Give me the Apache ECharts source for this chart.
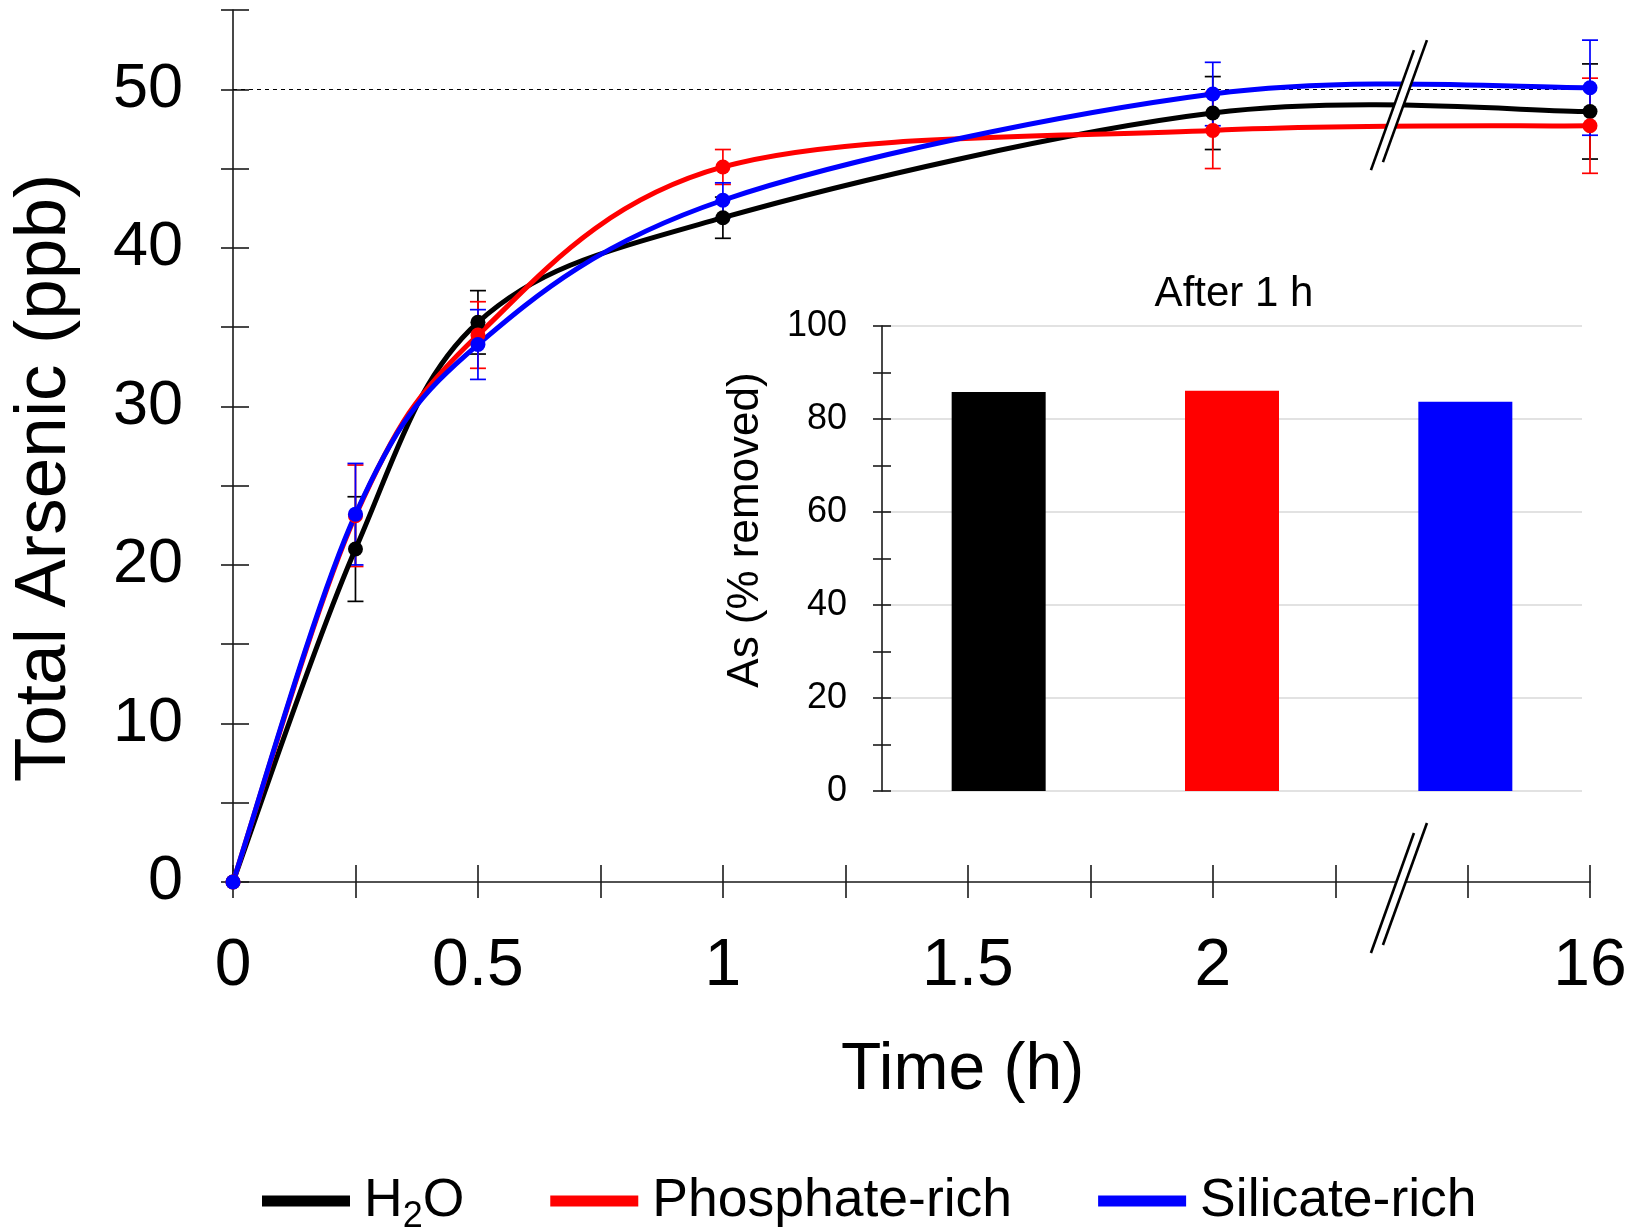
<!DOCTYPE html>
<html>
<head>
<meta charset="utf-8">
<script src="https://cdn.jsdelivr.net/npm/echarts@6/dist/echarts.min.js"></script>
<style>
  html, body { margin: 0; padding: 0; background: #fff; }
  #chart { width: 1641px; height: 1229px; }
</style>
</head>
<body>
<div id="chart"></div>
<script>
// Sampling times (h) and total arsenic (ppb), mean and SD
const timeHours = [0, 0.25, 0.5, 1, 2, 16];
const h2oMean  = [0, 21.0, 35.3, 41.9, 48.5, 48.6];
const h2oErr   = [0, 3.3, 2.0, 1.3, 2.3, 3.0];
const phosMean = [0, 23.1, 34.5, 45.1, 47.4, 47.7];
const phosErr  = [0, 3.2, 2.1, 1.1, 2.4, 3.0];
const silMean  = [0, 23.2, 33.9, 43.0, 49.7, 50.1];
const silErr   = [0, 3.2, 2.2, 1.1, 2.0, 3.0];

// Inset: arsenic removed after 1 h (%)
const insetCategories = ['H2O', 'Phosphate-rich', 'Silicate-rich'];
const insetRemoved = [85.8, 86.1, 83.7];

// Tick positions and labels of the time axis (h)
const xLabelHours = [0, 0.5, 1, 1.5, 2, 16];
const xTickHours = [0, 0.25, 0.5, 0.75, 1, 1.25, 1.5, 1.75, 2, 2.25, 15.75, 16];
const influentLevel = 50;

const seriesNames = ['H2O', 'Phosphate-rich', 'Silicate-rich'];
const seriesColors = ['#000000', '#ff0000', '#0000ff'];

// Broken time axis: hours between CUT_FROM and CUT_TO are skipped
const CUT_FROM = 2.38, CUT_TO = 15.61;
function toAxis(t) { return t <= CUT_FROM ? t : CUT_FROM + (t - CUT_TO); }
function fromAxis(u) { return u <= CUT_FROM + 1e-9 ? u : u - CUT_FROM + CUT_TO; }

const numFont = "'Liberation Sans', Arial, sans-serif";
const textFont = "'Liberation Sans', Arial, sans-serif";
const axisColor = '#1a1a1a';

const chart = echarts.init(document.getElementById('chart'), null, { renderer: 'canvas' });

// Measured points (markers)
function pointSeries(idx, mean) {
  return {
    type: 'scatter',
    name: seriesNames[idx],
    xAxisIndex: 0, yAxisIndex: 0,
    data: timeHours.map((t, i) => [toAxis(t), mean[i]]),
    symbol: 'circle',
    symbolSize: 15,
    itemStyle: { color: seriesColors[idx], opacity: 1 },
    z: 5
  };
}

// Smoothed connecting line: a cubic Bezier per interval with
// Catmull-Rom tangents taken from the neighbouring points
function curveSeries(idx, mean) {
  const pts = timeHours.map((t, i) => [toAxis(t), mean[i]]);
  const color = seriesColors[idx];
  return {
    type: 'custom',
    name: seriesNames[idx] + ' trend',
    xAxisIndex: 0, yAxisIndex: 0,
    encode: { x: 0, y: 1 },
    silent: true,
    z: 4,
    data: pts,
    renderItem(params, api) {
      const i = params.dataIndex;
      if (i >= pts.length - 1) return null;
      const P = (k) => api.coord(pts[Math.max(0, Math.min(pts.length - 1, k))]);
      const p0 = P(i - 1), p1 = P(i), p2 = P(i + 1), p3 = P(i + 2);
      return {
        type: 'bezierCurve',
        shape: {
          x1: p1[0], y1: p1[1], x2: p2[0], y2: p2[1],
          cpx1: p1[0] + (p2[0] - p0[0]) / 6, cpy1: p1[1] + (p2[1] - p0[1]) / 6,
          cpx2: p2[0] - (p3[0] - p1[0]) / 6, cpy2: p2[1] - (p3[1] - p1[1]) / 6
        },
        style: { stroke: color, lineWidth: 5, fill: null, lineCap: 'round' }
      };
    }
  };
}

function errorSeries(idx, mean, err) {
  const color = seriesColors[idx];
  return {
    type: 'custom',
    name: seriesNames[idx] + ' SD',
    xAxisIndex: 0, yAxisIndex: 0,
    encode: { x: 0, y: 1 },
    silent: true,
    z: 3,
    data: timeHours.map((t, i) => [toAxis(t), mean[i], err[i]]),
    renderItem(params, api) {
      const u = api.value(0), m = api.value(1), e = api.value(2);
      if (!e) return null;
      const top = api.coord([u, m + e]);
      const bot = api.coord([u, m - e]);
      const hw = 8;
      const st = { stroke: color, lineWidth: 1.7 };
      return {
        type: 'group',
        children: [
          { type: 'line', shape: { x1: top[0], y1: top[1], x2: bot[0], y2: bot[1] }, style: st },
          { type: 'line', shape: { x1: top[0] - hw, y1: top[1], x2: top[0] + hw, y2: top[1] }, style: st },
          { type: 'line', shape: { x1: bot[0] - hw, y1: bot[1], x2: bot[0] + hw, y2: bot[1] }, style: st }
        ]
      };
    }
  };
}

const h2oPoints = pointSeries(0, h2oMean);
h2oPoints.markLine = {
  silent: true,
  symbol: 'none',
  label: { show: false },
  lineStyle: { type: [4, 4], color: '#000', width: 1 },
  data: [{ yAxis: influentLevel }],
  z: 1
};

const xLabelFormatter = (v) => String(Number(fromAxis(v).toFixed(2)));

const option = {
  backgroundColor: '#ffffff',
  animation: false,
  title: {
    text: 'After 1 h',
    left: 1229,
    top: 268,
    textAlign: 'center',
    textStyle: { fontFamily: textFont, fontSize: 42, fontWeight: 'normal', color: '#000' }
  },
  legend: {
    data: seriesNames.map((n, i) => ({ name: n, itemStyle: { color: seriesColors[i] } })),
    left: 257,
    top: 1169,
    icon: 'rect',
    itemWidth: 88,
    itemHeight: 11,
    itemGap: 86,
    formatter: (name) => name === 'H2O' ? '{n|H}{s|2}{n|O}' : '{n|' + name + '}',
    textStyle: {
      color: '#000',
      padding: [0, 0, 0, 9],
      rich: {
        n: { fontFamily: textFont, fontSize: 53.5, lineHeight: 72, color: '#000' },
        s: { fontFamily: textFont, fontSize: 36, padding: [32, 0, 0, 0], color: '#000' }
      }
    }
  },
  grid: [
    { left: 229, top: 10, width: 1361, height: 872, containLabel: false },
    { left: 882, top: 326, width: 700, height: 465, containLabel: false }
  ],
  xAxis: [
    {
      type: 'value', gridIndex: 0,
      min: 0, max: toAxis(16),
      name: 'Time (h)',
      nameLocation: 'middle',
      nameGap: 156,
      nameTextStyle: { fontFamily: textFont, fontSize: 66, color: '#000', padding: [0, 0, 0, 102] },
      axisLine: { show: true, lineStyle: { color: axisColor, width: 1.6 } },
      axisTick: { show: true, inside: true, length: 17, customValues: xTickHours.map(toAxis), lineStyle: { color: axisColor, width: 1.6 } },
      axisLabel: { show: true, margin: 52, customValues: xLabelHours.map(toAxis), formatter: xLabelFormatter,
        fontFamily: numFont, fontSize: 66, color: '#000' },
      splitLine: { show: false }
    },
    {
      type: 'value', gridIndex: 0, position: 'bottom',
      min: 0, max: toAxis(16),
      axisLine: { show: false },
      axisTick: { show: true, inside: false, length: 16, customValues: xTickHours.map(toAxis), lineStyle: { color: axisColor, width: 1.6 } },
      axisLabel: { show: false },
      splitLine: { show: false }
    },
    {
      type: 'category', gridIndex: 1,
      data: insetCategories,
      axisLine: { show: false },
      axisTick: { show: false },
      axisLabel: { show: false },
      splitLine: { show: false }
    }
  ],
  yAxis: [
    {
      type: 'value', gridIndex: 0,
      min: 0, max: 55, interval: 5,
      name: 'Total Arsenic (ppb)',
      nameLocation: 'middle',
      nameRotate: 90,
      nameGap: 152,
      nameTextStyle: { fontFamily: textFont, fontSize: 73, color: '#000', padding: [0, 64, 0, 0] },
      axisLine: { show: true, lineStyle: { color: axisColor, width: 1.6 } },
      axisTick: { show: true, inside: true, length: 16, lineStyle: { color: axisColor, width: 1.6 } },
      axisLabel: { show: true, margin: 50, formatter: (v) => (v % 10 === 0 ? String(v) : ''),
        fontFamily: numFont, fontSize: 63, color: '#000' },
      splitLine: { show: false }
    },
    {
      type: 'value', gridIndex: 0, position: 'left',
      min: 0, max: 55, interval: 5,
      axisLine: { show: false },
      axisTick: { show: true, inside: false, length: 12, lineStyle: { color: axisColor, width: 1.6 } },
      axisLabel: { show: false },
      splitLine: { show: false }
    },
    {
      type: 'value', gridIndex: 1, position: 'left',
      min: 0, max: 100, interval: 10,
      axisLine: { show: true, lineStyle: { color: axisColor, width: 1.6 } },
      axisTick: { show: true, inside: true, length: 9, lineStyle: { color: axisColor, width: 1.6 } },
      axisLabel: { show: false },
      splitLine: { show: false }
    },
    {
      type: 'value', gridIndex: 1, position: 'left',
      min: 0, max: 100, interval: 10,
      axisLine: { show: false },
      axisTick: { show: true, inside: false, length: 9, lineStyle: { color: axisColor, width: 1.6 } },
      axisLabel: { show: false },
      splitLine: { show: false }
    },
    {
      type: 'value', gridIndex: 1, position: 'left',
      min: 0, max: 100, interval: 20,
      name: 'As (% removed)',
      nameLocation: 'middle',
      nameRotate: 90,
      nameGap: 114,
      nameTextStyle: { fontFamily: textFont, fontSize: 44, color: '#000', padding: [0, 0, 0, 57] },
      axisLine: { show: false },
      axisTick: { show: false },
      axisLabel: { show: true, margin: 35, fontFamily: textFont, fontSize: 36, color: '#000' },
      splitLine: { show: true, lineStyle: { color: '#d9d9d9', width: 1.5 } }
    }
  ],
  series: [
    {
      type: 'bar',
      name: 'Removed after 1 h',
      xAxisIndex: 2, yAxisIndex: 4,
      barWidth: 94,
      data: insetRemoved.map((v, i) => ({ value: v, itemStyle: { color: seriesColors[i] } })),
      z: 2
    },
    errorSeries(0, h2oMean, h2oErr),
    errorSeries(1, phosMean, phosErr),
    errorSeries(2, silMean, silErr),
    curveSeries(0, h2oMean),
    curveSeries(1, phosMean),
    curveSeries(2, silMean),
    h2oPoints,
    pointSeries(1, phosMean),
    pointSeries(2, silMean)
  ]
};

chart.setOption(option);

// Double-slash break marks on the time axis and across the curves
function breakMark(cx, cy) {
  const a1 = [cx - 28, cy + 65], a2 = [cx + 15, cy - 55];
  const b1 = [cx - 16, cy + 57], b2 = [cx + 28, cy - 65];
  const st = { stroke: '#000', lineWidth: 2.6, fill: null };
  return [
    { type: 'polygon', z: 100, shape: { points: [a1, a2, b2, b1] }, style: { fill: '#fff', stroke: null } },
    { type: 'polyline', z: 101, shape: { points: [a1, a2] }, style: st },
    { type: 'polyline', z: 101, shape: { points: [b1, b2] }, style: st }
  ];
}
const basePt = chart.convertToPixel({ xAxisIndex: 0, yAxisIndex: 0 }, [CUT_FROM, 0]);
const topPt = chart.convertToPixel({ xAxisIndex: 0, yAxisIndex: 0 }, [CUT_FROM, 49]);
chart.setOption({
  graphic: [].concat(breakMark(basePt[0], basePt[1] + 6), breakMark(topPt[0], topPt[1]))
});
</script>
</body>
</html>
